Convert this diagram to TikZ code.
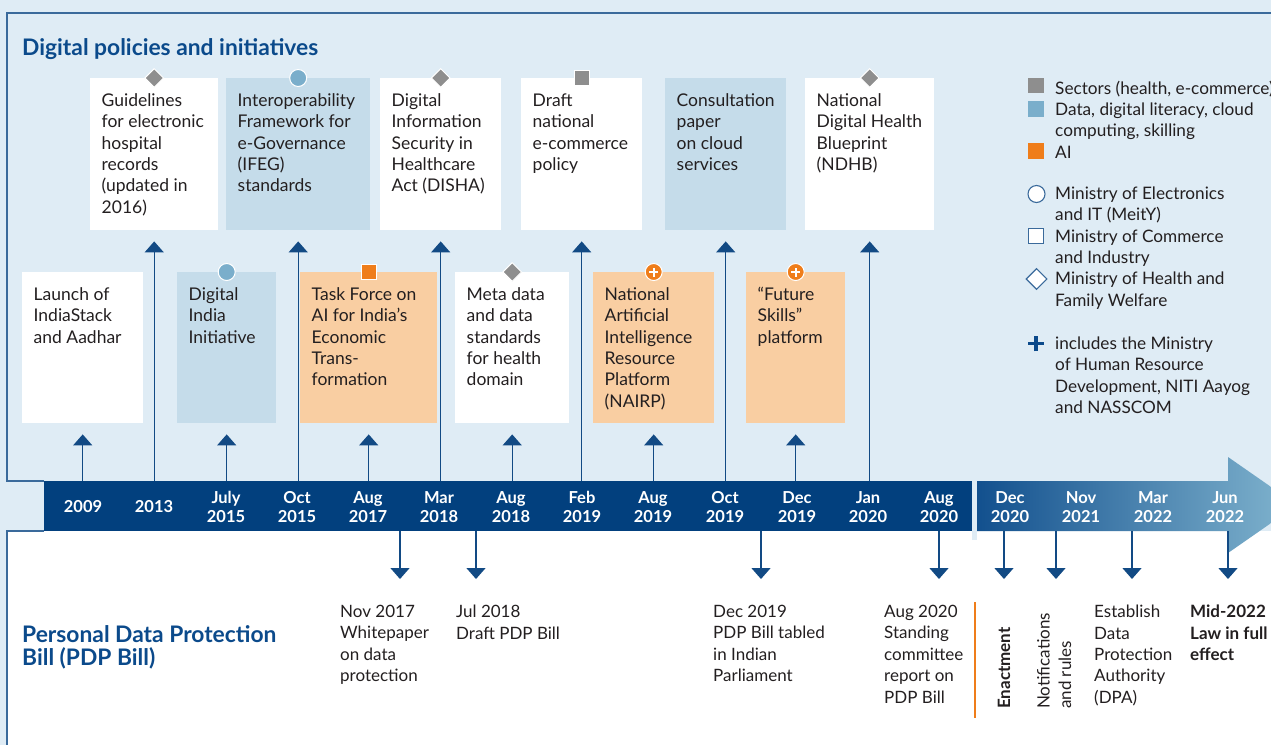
\documentclass[tikz,border=0pt]{standalone}
\usepackage{fontspec}
\setmainfont{Lato}
\usetikzlibrary{arrows.meta,shapes.geometric}

\definecolor{paleblue}{HTML}{DFECF5}
\definecolor{boxblue}{HTML}{C5DCEA}
\definecolor{boxorange}{HTML}{F9CEA2}
\definecolor{markorange}{HTML}{EF7D1A}
\definecolor{markgray}{HTML}{8E8E8E}
\definecolor{markblue}{HTML}{7AAECB}
\definecolor{navy}{HTML}{02407E}
\definecolor{headblue}{HTML}{0B4A8B}
\definecolor{linkblue}{HTML}{124A84}
\definecolor{framec}{HTML}{3A6A9B}
\definecolor{textc}{HTML}{231F20}
\definecolor{gradA}{HTML}{12508E}
\definecolor{gradB}{HTML}{82B5CF}

% card body: fixed width/height, text starts at the top with a left pad
\newcommand\cardtext[3]{\parbox[t][#2][t]{#1}{\fontsize{17.5}{21.4}\selectfont\raggedright\leftskip=11.5pt\rule{0pt}{28pt}#3}}
% two-line date with fixed line metrics
\newcommand\yr[2]{\rule{0pt}{12.5pt}#1\\#2\rule[-4pt]{0pt}{4pt}}
\newcommand\yrone[1]{\rule[-4pt]{0pt}{16.5pt}#1}

\begin{document}
\begin{tikzpicture}[x=1pt,y=-1pt,
  font=\fontsize{17}{21.4}\selectfont,
  every node/.style={text=textc},
  card/.style={inner sep=0pt, anchor=north west, fill=#1},
  frame/.style={draw=framec, line width=1.2pt},
  uplink/.style={draw=linkblue, line width=1.4pt, -{Triangle[width=19pt,length=11pt]}},
  downlink/.style={draw=linkblue, line width=1.4pt, -{Triangle[width=19pt,length=11pt]}},
  yearlbl/.style={text=white, font=\bfseries\fontsize{16.5}{19}\selectfont, align=center, inner sep=0pt},
  mkdiamond/.style={diamond, aspect=1, inner sep=0pt, minimum width=19pt, minimum height=19pt, fill=markgray, draw=white, line width=1pt},
  mkcircle/.style={circle, inner sep=0pt, minimum size=17pt, fill=markblue, draw=white, line width=1pt},
  mksquare/.style={rectangle, inner sep=0pt, minimum size=15pt, fill=#1, draw=white, line width=1pt},
  mkplus/.style={circle, inner sep=0pt, minimum size=17pt, fill=markorange, draw=white, line width=1pt,
    path picture={\draw[white, line width=1.8pt]
      ([xshift=-4.5pt]path picture bounding box.center) -- ([xshift=4.5pt]path picture bounding box.center)
      ([yshift=-4.5pt]path picture bounding box.center) -- ([yshift=4.5pt]path picture bounding box.center);}},
  lgbox/.style={rectangle, inner sep=0pt, minimum size=15.5pt, fill=#1},
  lgopen/.style={draw=framec, fill=white, line width=1.1pt, inner sep=0pt},
  lgtext/.style={anchor=north west, align=left, inner sep=0pt, font=\fontsize{17.2}{21.4}\selectfont},
  pdptext/.style={anchor=north west, align=left, inner sep=0pt},
]
\useasboundingbox (0,0) rectangle (1271,745);
\begin{scope}
\clip (0,0) rectangle (1271,745);

% panels
\fill[paleblue] (0,0) rectangle (1271,745);
\fill[white] (7,531) rectangle (1271,745);
\draw[frame] (1271,13) -- (7,13) -- (7,481) -- (44,481);
\draw[frame] (44,531) -- (7,531) -- (7,745);

% timeline band
\fill[navy] (44,481) rectangle (972,531);
\fill[paleblue] (972,481) rectangle (977,540);
\shade[left color=gradA, right color=gradB]
  (977,481) -- (1228,481) -- (1228,457) -- (1297,505) -- (1228,553) -- (1228,531) -- (977,531) -- cycle;
\coordinate (bandtop) at (0,481);
\coordinate (bandbot) at (0,531);

% section titles
\node[anchor=north west, inner sep=0pt, text=headblue, font=\bfseries\fontsize{22.8}{25}\selectfont] (toptitle) at (22,38) {Digital policies and initiatives};
\node[anchor=north west, inner sep=0pt, align=left, text=headblue, font=\bfseries\fontsize{22.8}{23}\selectfont] (pdptitle) at (22,625) {Personal Data Protection\\Bill (PDP Bill)};

% upper row of cards
\node[card=white]   (guide) at (90,78)  {\cardtext{128pt}{152pt}{Guidelines\\for electronic\\hospital\\records\\(updated in\\2016)}};
\node[card=boxblue] (ifeg)  at (226,78) {\cardtext{144pt}{152pt}{Interoperability\\Framework for\\e-Governance\\(IFEG)\\standards}};
\node[card=white]   (disha) at (380,78) {\cardtext{121pt}{152pt}{Digital\\Information\\Security in\\Healthcare\\Act (DISHA)}};
\node[card=white]   (ecom)  at (521,78) {\cardtext{121pt}{152pt}{Draft\\national\\e-commerce\\policy}};
\node[card=boxblue] (cloud) at (665,78) {\cardtext{121pt}{152pt}{Consultation\\paper\\on cloud\\services}};
\node[card=white]   (ndhb)  at (805,78) {\cardtext{129pt}{152pt}{National\\Digital Health\\Blueprint\\(NDHB)}};

% lower row of cards
\node[card=white]      (stack)  at (22,272)  {\cardtext{121pt}{151pt}{Launch of\\IndiaStack\\and Aadhar}};
\node[card=boxblue]    (dindia) at (177,272) {\cardtext{99pt}{151pt}{Digital\\India\\Initiative}};
\node[card=boxorange]  (task)   at (300,272) {\cardtext{137pt}{151pt}{Task Force on\\AI for India’s\\Economic\\Trans-\\formation}};
\node[card=white]      (meta)   at (455,272) {\cardtext{114pt}{151pt}{Meta data\\and data\\standards\\for health\\domain}};
\node[card=boxorange]  (nairp)  at (593,272) {\cardtext{121pt}{151pt}{National\\Artificial\\Intelligence\\Resource\\Platform\\(NAIRP)}};
\node[card=boxorange]  (skills) at (746,272) {\cardtext{99pt}{151pt}{“Future\\Skills”\\platform}};

% ministry markers
\node[mkdiamond] (guide-m) at (guide.north) {};
\node[mkcircle]  (ifeg-m)  at (ifeg.north) {};
\node[mkdiamond] (disha-m) at (disha.north) {};
\node[mksquare=markgray] (ecom-m) at ([yshift=0.5pt]ecom.north) {};
\node[mkdiamond] (ndhb-m)  at (ndhb.north) {};
\node[mkcircle]  (dindia-m) at (dindia.north) {};
\node[mksquare=markorange] (task-m) at (task.north) {};
\node[mkdiamond] (meta-m)  at (meta.north) {};
\node[mkplus]    (nairp-m) at (nairp.north) {};
\node[mkplus]    (skills-m) at (skills.north) {};

% timeline labels
\node[yearlbl] (y2009)  at (83,508)   {\yrone{2009}};
\node[yearlbl] (y2013)  at (154,508)  {\yrone{2013}};
\node[yearlbl] (jul15)  at (226,508.3)  {\yr{July}{2015}};
\node[yearlbl] (oct15)  at (297,508.3)  {\yr{Oct}{2015}};
\node[yearlbl] (aug17)  at (368,508.3)  {\yr{Aug}{2017}};
\node[yearlbl] (mar18)  at (439,508.3)  {\yr{Mar}{2018}};
\node[yearlbl] (aug18)  at (511,508.3)  {\yr{Aug}{2018}};
\node[yearlbl] (feb19)  at (582,508.3)  {\yr{Feb}{2019}};
\node[yearlbl] (aug19)  at (653,508.3)  {\yr{Aug}{2019}};
\node[yearlbl] (oct19)  at (725,508.3)  {\yr{Oct}{2019}};
\node[yearlbl] (dec19)  at (797,508.3)  {\yr{Dec}{2019}};
\node[yearlbl] (jan20)  at (868,508.3)  {\yr{Jan}{2020}};
\node[yearlbl] (aug20)  at (939,508.3)  {\yr{Aug}{2020}};
\node[yearlbl] (dec20)  at (1010,508.3) {\yr{Dec}{2020}};
\node[yearlbl] (nov21)  at (1081,508.3) {\yr{Nov}{2021}};
\node[yearlbl] (mar22)  at (1153,508.3) {\yr{Mar}{2022}};
\node[yearlbl] (jun22)  at (1225,508.3) {\yr{Jun}{2022}};

% links from the band up to the cards
\foreach \c in {guide,ifeg,disha,ecom,cloud,ndhb,stack,dindia,task,meta,nairp,skills}
  \draw[uplink] (\c.south |- bandtop) -- ([yshift=-11pt]\c.south);

% links from the band down to the PDP milestones
\coordinate (p-wp)    at (400,579);
\coordinate (p-draft) at (476,579);
\coordinate (p-tab)   at (761,579);
\coordinate (p-rep)   at (939,579);
\coordinate (p-ena)   at (1004,579);
\coordinate (p-not)   at (1056,579);
\coordinate (p-dpa)   at (1132,579);
\coordinate (p-law)   at (1228,579);
\foreach \c in {p-wp,p-draft,p-tab,p-rep,p-ena,p-not,p-dpa,p-law}
  \draw[downlink] (\c |- bandbot) -- (\c);

% PDP milestones
\node[pdptext] (wp)    at (340,605)  {Nov 2017\\Whitepaper\\on data\\protection};
\node[pdptext] (draft) at (456,605)  {Jul 2018\\Draft PDP Bill};
\node[pdptext] (tab)   at (713,605)  {Dec 2019\\PDP Bill tabled\\in Indian\\Parliament};
\node[pdptext] (rep)   at (884,605)  {Aug 2020\\Standing\\committee\\report on\\PDP Bill};
\draw[markorange, line width=2pt] (975,602) -- (975,718);
\node[pdptext, rotate=90, anchor=west, font=\bfseries\fontsize{17}{21.4}\selectfont] (ena) at (1004,709) {Enactment};
\node[pdptext, rotate=90] (notif) at (1037,709) {Notifications\\and rules};
\node[pdptext] (dpa)   at (1094,605) {Establish\\Data\\Protection\\Authority\\(DPA)};
\node[pdptext, font=\bfseries\fontsize{17}{21.4}\selectfont] (law) at (1190,605) {Mid-2022\\Law in full\\effect};

% legend
\node[lgbox=markgray]   (lg-sec) at (1036,85.5) {};
\node[lgbox=markblue]   (lg-dat) at (1036,109) {};
\node[lgbox=markorange] (lg-ai)  at (1036,151) {};
\node[lgtext] (lg-t1) at (1055,80.5) {Sectors (health, e-commerce)\\Data, digital literacy, cloud\\computing, skilling\\AI};
\node[lgopen, circle, minimum size=17pt] (lg-mei) at (1036.5,194) {};
\node[lgopen, rectangle, minimum size=15pt] (lg-com) at (1036,236) {};
\node[lgopen, diamond, aspect=1, minimum width=21pt, minimum height=21pt] (lg-hea) at (1036.5,279) {};
\node[lgtext] (lg-t2) at (1055,186.5) {Ministry of Electronics\\and IT (MeitY)\\Ministry of Commerce\\and Industry\\Ministry of Health and\\Family Welfare};
\node[inner sep=0pt, minimum size=16pt,
  path picture={\draw[headblue, line width=3.5pt]
    ([xshift=-7.8pt]path picture bounding box.center) -- ([xshift=7.8pt]path picture bounding box.center)
    ([yshift=-7.8pt]path picture bounding box.center) -- ([yshift=7.8pt]path picture bounding box.center);}]
  (lg-plus) at (1036,343.5) {};
\node[lgtext] (lg-t3) at (1055,336.5) {includes the Ministry\\of Human Resource\\Development, NITI Aayog\\and NASSCOM};
\end{scope}
\end{tikzpicture}
\end{document}
